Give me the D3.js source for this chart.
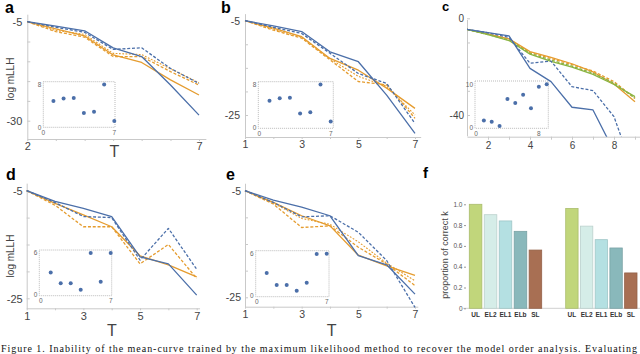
<!DOCTYPE html>
<html><head><meta charset="utf-8">
<script src="https://cdn.jsdelivr.net/npm/d3@7"></script>
<style>body{margin:0;background:#fff;} svg{display:block;} text{font-family:"Liberation Sans",Arial,sans-serif;}</style>
</head><body><svg id="c" width="640" height="354"></svg>
<script>
// ---------- DATA ----------
// panel a
const aT = [2, 2.83, 3.67, 4.5, 5.33, 6.17, 7];
const aBlueSolid   = [-5, -6.1, -7.3, -11.6, -13.8, -21.0, -28.6];
const aBlueDashed  = [-5, -6.4, -7.7, -12.0, -11.6, -16.8, -20.6];
const aOrangeSolid = [-5, -6.8, -8.6, -13.4, -15.3, -19.7, -23.5];
const aOrangeDash1 = [-5, -7.5, -8.9, -13.8, -13.8, -17.6, -21.0];
const aOrangeDash2 = [-5, -7.2, -8.2, -13.0, -13.3, -16.9, -20.4];
const aInsetX = [1, 2, 3, 4, 5, 6, 7];
const aInsetY = [4.9, 5.4, 5.5, 2.65, 2.9, 8.0, 1.2];
// panel b
const bT = [1, 2, 3, 4, 5, 6, 7];
const bBlueSolid   = [-5, -6.1, -7.3, -11.6, -13.7, -20.8, -28.9];
const bBlueDashed  = [-5, -6.4, -7.7, -11.9, -16.2, -18.3, -26.8];
const bOrangeSolid = [-5, -6.6, -8.4, -13.0, -15.5, -19.3, -23.6];
const bOrangeDash1 = [-5, -7.0, -8.7, -13.3, -17.9, -18.6, -25.7];
const bOrangeDash2 = [-5, -6.8, -8.5, -13.1, -16.8, -18.9, -25.0];
const bInsetX = [1, 2, 3, 4, 5, 6, 7];
const bInsetY = [5.0, 5.5, 5.6, 2.6, 2.85, 8.1, 1.1];
// panel c
const cT = [1, 2, 3, 4, 5, 6, 7, 8, 9];
const cBlueSolid   = [-4.6, -5.9, -7.3, -20.7, -26.2, -36.8, -37.9, -55, -75];
const cBlueDashed  = [-4.6, -6.0, -7.9, -18.6, -17.7, -28.3, -29.9, -40.7, -65];
const cOrangeSolid = [-4.6, -6.5, -8.5, -13.8, -16.2, -18.8, -22.2, -27.2, -34.5];
const cOrangeDash  = [-4.6, -6.5, -8.6, -14.2, -16.6, -19.2, -21.8, -26.2, -33.2];
const cGreenSolid  = [-4.6, -6.8, -9.2, -14.8, -17.8, -20.2, -23.2, -27.4, -32.4];
const cGreenDash   = [-4.6, -6.7, -9.0, -14.5, -17.3, -19.8, -22.7, -26.8, -33.0];
const cInsetX = [1, 2, 3, 4, 5, 6, 7, 8, 9];
const cInsetY = [1.6, 1.3, 0.3, 6.7, 5.75, 7.7, 4.5, 9.6, 10.2];
// panel d
const dT = [1, 2, 3, 4, 5, 6, 7];
const dBlueSolid   = [-5, -7.0, -8.3, -9.8, -17.3, -18.6, -24.4];
const dBlueDashed  = [-5, -7.2, -9.8, -10.0, -17.9, -12.0, -19.6];
const dOrangeSolid = [-5, -7.35, -9.5, -11.7, -17.1, -18.8, -21.0];
const dOrangeDash  = [-5, -7.7, -11.7, -11.7, -18.6, -15.0, -21.3];
const dInsetX = [1, 2, 3, 4, 5, 6, 7];
const dInsetY = [3.2, 1.67, 1.67, 0.76, 6.0, 1.9, 6.0];
// panel e
const eT = [1, 2, 3, 4, 5, 6, 7];
const eBlueSolid   = [-5, -6.75, -8.1, -9.7, -17.2, -18.9, -24.4];
const eBlueDashed  = [-5, -7.2, -9.9, -9.7, -12.8, -18.1, -26.9];
const eOrangeSolid = [-5, -7.2, -9.7, -11.6, -17.1, -19.1, -20.9];
const eOrangeDash1 = [-5, -7.5, -11.9, -11.6, -15.6, -18.75, -22.8];
const eOrangeDash2 = [-5, -7.3, -10.2, -11.3, -14.6, -18.6, -21.9];
const eInsetX = [1, 2, 3, 4, 5, 6, 7];
const eInsetY = [3.2, 1.5, 1.5, 0.67, 1.8, 5.9, 5.95];
// panel f
const fCategories = ["UL", "EL2", "EL1", "ELb", "SL"];
const fGroup1 = [1.0, 0.90, 0.84, 0.74, 0.56];
const fGroup2 = [0.96, 0.79, 0.66, 0.58, 0.34];
const fTicks = [0, 0.2, 0.4, 0.6, 0.8, 1.0];
const captionText = "Figure 1.  Inability of the  mean-curve  trained by the maximum  likelihood method to recover the model order analysis.  Evaluating";

// ---------- DRAW ----------
const svg = d3.select('#c');
const BLUE = '#4b6fa9', ORANGE = '#e59c2f', GREEN = '#8bb443';
const AX = '#c9c9c9', TXT = '#444';

function styleAxis(g, fs) {
  g.select('.domain').attr('stroke', AX);
  g.selectAll('.tick line').attr('stroke', AX);
  g.selectAll('.tick text').attr('fill', TXT).attr('font-size', fs);
}

function drawLinePanel(c) {
  const x = d3.scaleLinear().domain(c.xDom).range(c.xRng);
  const y = d3.scaleLinear().domain(c.yDom).range(c.yRng);
  const g = svg.append('g');
  const xa = d3.scaleLinear().domain(c.xExt).range(c.xExt.map(x));
  const ya = d3.scaleLinear().domain(c.yExt).range(c.yExt.map(y));
  const gx = g.append('g').attr('transform', `translate(0,${c.axisY})`)
    .call(d3.axisBottom(xa).tickValues(c.xTicks).tickFormat(d => c.xLabels.includes(d) ? String(d) : '')
      .tickSizeInner(c.xTickSize).tickSizeOuter(0).tickPadding(c.xPad));
  styleAxis(gx, c.fs);
  const gy = g.append('g').attr('transform', `translate(${x(c.xExt[0])},0)`)
    .call(d3.axisLeft(ya).tickValues(c.yTicks).tickFormat(d => c.yLabels.includes(d) ? String(d) : '')
      .tickSizeInner(-3).tickSizeOuter(0).tickPadding(c.yPad));
  styleAxis(gy, c.fs);
  gy.selectAll('.tick text').attr('dy', '0.35em');

  let lg = g.append('g');
  if (c.clip) {
    const id = 'clip' + c.name;
    svg.append('clipPath').attr('id', id).append('rect')
      .attr('x', x(c.xExt[0])).attr('y', 0).attr('width', 640 - x(c.xExt[0])).attr('height', c.axisY);
    lg.attr('clip-path', `url(#${id})`);
  }
  const line = d3.line().x((d, i) => x(c.T[i])).y(d => y(d));
  c.series.forEach(s => {
    lg.append('path').attr('d', line(s.v)).attr('fill', 'none')
      .attr('stroke', s.c).attr('stroke-width', s.w || 1.3)
      .attr('stroke-dasharray', s.dash || null).attr('stroke-linejoin', 'round');
  });

  // inset
  const ins = c.inset;
  const ix = d3.scaleLinear().domain(ins.xDom).range(ins.xRng);
  const iy = d3.scaleLinear().domain(ins.yDom).range(ins.yRng);
  const [bx0, by0, bx1, by1] = ins.box;
  g.append('rect').attr('x', bx0).attr('y', by0).attr('width', bx1 - bx0).attr('height', by1 - by0)
    .attr('fill', '#fff').attr('stroke', '#aaa').attr('stroke-width', 0.8).attr('stroke-dasharray', '1,1');
  g.selectAll(null).data(ins.ys).enter().append('circle')
    .attr('cx', (d, i) => ix(ins.xs[i])).attr('cy', d => iy(d)).attr('r', 2).attr('fill', BLUE);
  const it = g.append('g').attr('font-size', 6.5).attr('fill', '#666');
  ins.yLabels.forEach(v => it.append('text').attr('x', bx0 - 2).attr('y', iy(v)).attr('dy', '0.35em')
    .attr('text-anchor', 'end').text(v));
  ins.xLabels.forEach(v => it.append('text').attr('x', ix(v)).attr('y', by1 + 3).attr('dy', '0.71em')
    .attr('text-anchor', 'middle').text(v));

  // labels
  svg.append('text').attr('x', c.letter[0]).attr('y', c.letter[1]).attr('font-size', c.letter[2])
    .attr('font-weight', 'bold').attr('fill', '#000').text(c.name);
  if (c.ylab) svg.append('text').attr('transform', `translate(${c.ylab[0]},${c.ylab[1]}) rotate(-90)`)
    .attr('text-anchor', 'middle').attr('font-size', 10).attr('fill', TXT).attr('dy', '0.35em').text('log mLLH');
  if (c.tlab) svg.append('text').attr('x', c.tlab[0]).attr('y', c.tlab[1]).attr('text-anchor', 'middle')
    .attr('font-size', 16).attr('fill', TXT).text('T');
}

const ser = (bs, bd, os, od1, od2) => {
  const s = [
    {v: os, c: ORANGE},
    {v: od1, c: ORANGE, dash: '3,1.8'},
  ];
  if (od2) s.push({v: od2, c: ORANGE, dash: '1.8,1.5', w: 1.1});
  s.push({v: bs, c: BLUE}, {v: bd, c: BLUE, dash: '3,1.8'});
  return s;
};

drawLinePanel({
  name: 'a', T: aT, xDom: [2, 7], xRng: [27.3, 199], yDom: [-5, -30], yRng: [21.7, 120.7],
  xExt: [2, 7.2], yExt: [-3.1, -34.6], axisY: 139,
  xTicks: aT, xLabels: [2, 7], yTicks: [-5, -10, -15, -20, -25, -30], yLabels: [-5, -30],
  xTickSize: 2, xPad: 1.5, yPad: 5, fs: 11,
  series: ser(aBlueSolid, aBlueDashed, aOrangeSolid, aOrangeDash1, aOrangeDash2),
  inset: {box: [43.3, 81.7, 115, 127.3], xDom: [0, 7], xRng: [43.3, 114.3], yDom: [0, 8], yRng: [127.3, 84.5],
    xs: aInsetX, ys: aInsetY, xLabels: [0, 7], yLabels: [0, 8]},
  letter: [5, 13, 16], ylab: [10, 79], tlab: [114.5, 157]
});

drawLinePanel({
  name: 'b', T: bT, xDom: [1, 7], xRng: [245, 415], yDom: [-5, -25], yRng: [20.7, 115],
  xExt: [1, 7.2], yExt: [-3.5, -29.6], axisY: 137,
  xTicks: [1, 2, 3, 4, 5, 6, 7], xLabels: [1, 3, 5, 7], yTicks: [-5, -10, -15, -20, -25], yLabels: [-5, -25],
  xTickSize: 2, xPad: 2, yPad: 5, fs: 10.5,
  series: ser(bBlueSolid, bBlueDashed, bOrangeSolid, bOrangeDash1, bOrangeDash2),
  inset: {box: [258.3, 81.7, 333.3, 128.3], xDom: [0, 7], xRng: [259.3, 330.7], yDom: [0, 8], yRng: [127.3, 85],
    xs: bInsetX, ys: bInsetY, xLabels: [0, 7], yLabels: [0, 8]},
  letter: [221, 13, 16]
});

drawLinePanel({
  name: 'c', T: cT, xDom: [1, 9], xRng: [467, 635], yDom: [0, -40], yRng: [18.3, 115],
  xExt: [1, 9.25], yExt: [-0.5, -48.6], axisY: 136.7, clip: true,
  xTicks: [2, 3, 4, 5, 6, 7, 8, 9], xLabels: [2, 4, 6, 8], yTicks: [0, -10, -20, -30, -40], yLabels: [0, -40],
  xTickSize: 3, xPad: 2, yPad: 3, fs: 10,
  series: [
    {v: cOrangeSolid, c: ORANGE}, {v: cOrangeDash, c: ORANGE, dash: '3,1.8'},
    {v: cGreenSolid, c: GREEN}, {v: cGreenDash, c: GREEN, dash: '3,1.8'},
    {v: cBlueSolid, c: BLUE}, {v: cBlueDashed, c: BLUE, dash: '3,1.8'}
  ],
  inset: {box: [475, 81, 548.3, 128.3], xDom: [0, 9], xRng: [476, 546.7], yDom: [0, 10], yRng: [127.3, 85],
    xs: cInsetX, ys: cInsetY, xLabels: [0, 8], yLabels: [0, 10]},
  letter: [442, 11, 13]
});

drawLinePanel({
  name: 'd', T: dT, xDom: [1, 7], xRng: [26.7, 196.7], yDom: [-5, -25], yRng: [190.7, 298.3],
  xExt: [1, 7.1], yExt: [-3.6, -26.9], axisY: 308.3,
  xTicks: [1, 2, 3, 4, 5, 6, 7], xLabels: [1, 3, 5, 7], yTicks: [-5, -10, -15, -20, -25], yLabels: [-5, -25],
  xTickSize: 2, xPad: 2, yPad: 4, fs: 11,
  series: ser(dBlueSolid, dBlueDashed, dOrangeSolid, dOrangeDash),
  inset: {box: [39.3, 250, 111.7, 295.7], xDom: [0, 7], xRng: [40.7, 110.7], yDom: [0, 6], yRng: [295, 253],
    xs: dInsetX, ys: dInsetY, xLabels: [0, 7], yLabels: [0, 6]},
  letter: [6, 180, 16], ylab: [10, 256], tlab: [112, 336]
});

drawLinePanel({
  name: 'e', T: eT, xDom: [1, 7], xRng: [245, 415], yDom: [-5, -25], yRng: [190.7, 297.3],
  xExt: [1, 7.1], yExt: [-3.6, -26.8], axisY: 306.7,
  xTicks: [1, 2, 3, 4, 5, 6, 7], xLabels: [1, 3, 5, 7], yTicks: [-5, -10, -15, -20, -25], yLabels: [-5, -25],
  xTickSize: 2, xPad: 2, yPad: 4, fs: 10.5,
  series: ser(eBlueSolid, eBlueDashed, eOrangeSolid, eOrangeDash1, eOrangeDash2),
  inset: {box: [255.7, 250.7, 329, 296.7], xDom: [0, 7], xRng: [256.7, 326.7], yDom: [0, 6], yRng: [295.5, 253.3],
    xs: eInsetX, ys: eInsetY, xLabels: [0, 7], yLabels: [0, 6]},
  letter: [226, 180, 16], tlab: [331.7, 336]
});

// ---------- panel f ----------
(function () {
  const colors = {UL: '#c1d67b', EL2: '#d5ede8', EL1: '#b4e0e2', ELb: '#89b8bb', SL: '#a86f53'};
  const y = d3.scaleLinear().domain([0, 1]).range([308.3, 204.3]);
  const g = svg.append('g');
  g.append('line').attr('x1', 463).attr('x2', 640).attr('y1', y(0)).attr('y2', y(0)).attr('stroke', '#d0d0d0');
  const ga = g.append('g').attr('transform', 'translate(466,0)')
    .call(d3.axisLeft(y).tickValues(fTicks).tickFormat(d => d === 0 ? '0' : d3.format('.1f')(d)).tickSize(2).tickPadding(1.5));
  ga.select('.domain').remove();
  ga.selectAll('.tick line').attr('stroke', '#999');
  ga.selectAll('.tick text').attr('font-size', 6.5).attr('fill', '#555');
  [[fGroup1, [469.3, 541.7]], [fGroup2, [565.7, 637]]].forEach(([vals, rng]) => {
    const x = d3.scaleBand().domain(fCategories).range(rng).paddingInner(0.16).paddingOuter(0);
    g.selectAll(null).data(vals).enter().append('rect')
      .attr('x', (d, i) => x(fCategories[i])).attr('width', x.bandwidth())
      .attr('y', d => y(d)).attr('height', d => y(0) - y(d))
      .attr('fill', (d, i) => colors[fCategories[i]])
      .attr('stroke', (d, i) => d3.color(colors[fCategories[i]]).darker(0.35))
      .attr('stroke-width', 0.8);
    g.selectAll(null).data(fCategories).enter().append('text')
      .attr('x', d => x(d) + x.bandwidth() / 2).attr('y', 316.5).attr('text-anchor', 'middle')
      .attr('font-size', 6.5).attr('font-weight', 'bold').attr('fill', '#333').text(d => d);
  });
  svg.append('text').attr('transform', 'translate(445,255) rotate(-90)').attr('text-anchor', 'middle')
    .attr('dy', '0.35em').attr('font-size', 9).attr('fill', TXT).text('proportion of correct k');
  svg.append('text').attr('x', 423).attr('y', 178).attr('font-size', 15).attr('font-weight', 'bold').text('f');
})();

// caption line at the bottom edge
svg.append('text').attr('x', 1).attr('y', 351.5).attr('font-size', 10)
  .style('font-family', '"Liberation Serif","Times New Roman",serif').attr('fill', '#111')
  .attr('textLength', 636).attr('lengthAdjust', 'spacing').text(captionText);
</script></body></html>
